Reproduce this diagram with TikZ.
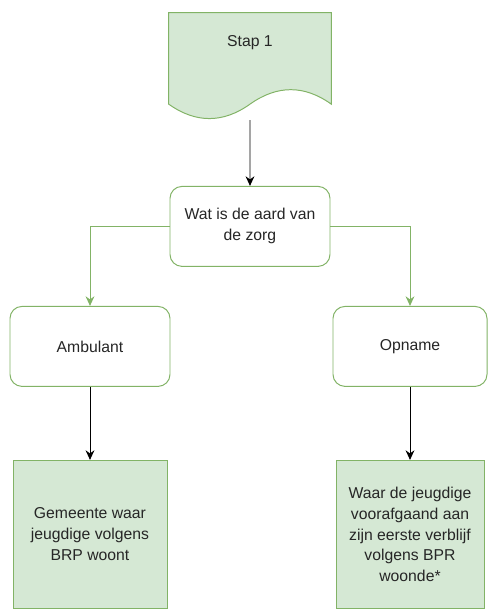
\documentclass[tikz,border=0pt]{standalone}
\usepackage{fontspec}
\setmainfont{Liberation Sans}
\usepackage{xcolor}
\usepackage{tikz}
\usetikzlibrary{trees,arrows.meta,backgrounds}

\definecolor{drawgreen}{HTML}{82B366}
\definecolor{fillgreen}{HTML}{D5E8D4}

\begin{document}
\begin{tikzpicture}[
			font=\fontsize{11.2}{14.9}\selectfont,
			box/.style={draw=drawgreen, line width=0.7pt, rounded corners=0.3cm, fill=white, minimum width=4cm, minimum height=2cm, align=center, text=black!85},
			endbox/.style={draw=drawgreen, line width=0.7pt, fill=fillgreen, minimum width=3.85cm, minimum height=3.7cm, align=center, text=black!85},
			edge from parent/.style={draw, ->, line width=0.7pt},
			level 1/.style={level distance=4.0cm},
			level 2/.style={level distance=3.0cm, sibling distance=8.0cm, edge from parent/.style={draw=drawgreen, ->, line width=0.7pt}},
			level 3/.style={level distance=4.7cm, edge from parent/.style={draw=black, ->, line width=0.7pt}, edge from parent path={(\tikzparentnode\tikzparentanchor) -- (\tikzchildnode\tikzchildanchor)}},
			>={Stealth[length=2.4mm,width=2.2mm]}
			]
			
			\useasboundingbox (0,0) rectangle (12.2,-15.25);
			
			% step 1 down to the two outcomes
			\node[minimum width=4.05cm, minimum height=2.675cm, inner sep=0pt, label={[anchor=center, yshift=-0.75cm, text=black!85]north:Stap 1}] (stap) at (6.25,-1.66) {}
			child {
				node[box] (aard) {Wat is de aard van\\de zorg}
				child[edge from parent path={(\tikzparentnode.west) -| (\tikzchildnode.north)}] {
					node[box] (amb) {Ambulant}
					child {
						node[endbox] (gem) {Gemeente waar\\jeugdige volgens\\BRP woont}
					}
				}
				child[edge from parent path={(\tikzparentnode.east) -| (\tikzchildnode.north)}] {
					node[box, minimum width=3.85cm] (opn) {Opname}
					child {
						node[endbox, minimum width=3.7cm] (waar) {Waar de jeugdige\\voorafgaand aan\\zijn eerste verblijf\\volgens BPR\\woonde*}
					}
				}
			};
			
			% document shape behind Stap 1
			\begin{scope}[on background layer]
				\draw[drawgreen, fill=fillgreen, line width=0.7pt] (stap.north west) -- (stap.north east) -- ([yshift=4.01mm]stap.south east)
				.. controls ([xshift=-0.675cm,yshift=8.83mm]stap.south east) and ([xshift=-1.35cm,yshift=8.83mm]stap.south east) .. ([yshift=4.01mm]stap.south)
				.. controls ([xshift=-0.675cm,yshift=-0.8mm]stap.south) and ([xshift=0.675cm,yshift=-0.8mm]stap.south west) .. ([yshift=4.01mm]stap.south west) -- cycle;
			\end{scope}
		\end{tikzpicture}
\end{document}
